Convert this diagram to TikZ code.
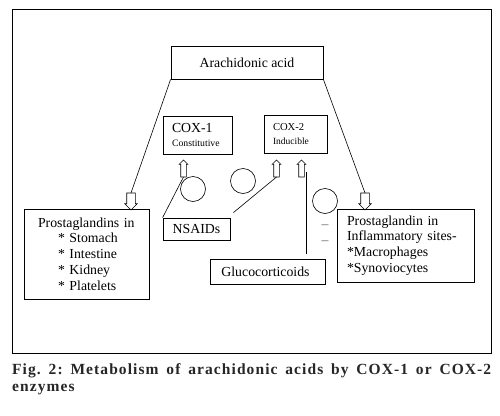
\documentclass[tikz,border=0pt]{standalone}
\usepackage{fontspec}
\setmainfont{Liberation Serif}
\usetikzlibrary{shapes.arrows}
\tikzset{
  box/.style={draw, line width=0.8pt, inner sep=0pt, font=\fontsize{13.8}{15.8}\selectfont},
  bigarrow/.style={single arrow, draw, line width=0.6pt, inner xsep=0pt, inner ysep=4pt,
    outer sep=0pt, single arrow head extend=2pt, minimum height=17pt},
  smallarrow/.style={single arrow, draw, line width=0.6pt, inner xsep=0pt, inner ysep=2.5pt,
    outer sep=0pt, single arrow head extend=1.5pt, minimum height=17pt},
  ring/.style={circle, draw, line width=0.6pt, minimum size=25pt, inner sep=0pt},
  link/.style={line width=0.6pt}
}
\begin{document}
\begin{tikzpicture}[x=1pt,y=-1pt]
\useasboundingbox (0,0) rectangle (500,415);
\draw[line width=1pt] (12,9) rectangle (491,353);
% boxes
\node[box, minimum width=152pt, minimum height=33pt] (acid) at (247,62.5) {Arachidonic acid};
\node[box, minimum width=69pt, minimum height=38pt, inner xsep=9pt, text width=51pt, align=left] (cox1) at (197.5,135)
  {COX-1\\[-2pt]{\fontsize{9.75}{11}\selectfont Constitutive}};
\node[box, minimum width=63pt, minimum height=38pt, inner xsep=9pt, text width=45pt, align=left] (cox2) at (295.5,134)
  {{\fontsize{10.6}{12}\selectfont COX-2}\\[-1pt]{\fontsize{9.5}{11}\selectfont Inducible}};
\node[box, minimum width=125pt, minimum height=90pt, inner xsep=14pt, text width=97pt, align=left] (stomach) at (86.5,254)
  {Prostaglandins in\\\hspace*{20pt}* Stomach\\\hspace*{20pt}* Intestine\\\hspace*{20pt}* Kidney\\\hspace*{20pt}* Platelets};
\node[box, minimum width=67pt, minimum height=22pt] (nsaid) at (196.5,229) {NSAIDs};
\node[box, minimum width=115pt, minimum height=25pt] (gluco) at (267.5,271.5) {Glucocorticoids\hspace*{4pt}};
\node[box, minimum width=137pt, minimum height=73pt, inner xsep=10pt, text width=117pt, align=left] (inflam) at (405.5,245.5)
  {Prostaglandin in\\Inflammatory sites-\\{}*Macrophages\\{}*Synoviocytes};
% hollow arrows
\node[bigarrow, rotate=-90, anchor=tip] (downL) at (131,210) {};
\node[bigarrow, rotate=-90, anchor=tip] (downR) at (365,210) {};
\node[smallarrow, rotate=90, anchor=tip] (up1) at (183.5,160) {};
\node[smallarrow, rotate=90, anchor=tip] (up2) at (276.5,160) {};
\node[smallarrow, rotate=90, anchor=tip] (up3) at (301.5,160) {};
% circles and minus signs
\node[ring] (ring1) at (193,189) {};
\node[ring] (ring2) at (243,181) {};
\node[ring] (ring3) at (325,201) {};
\node[text=black!60, inner sep=0pt, font=\fontsize{13.8}{15.8}\selectfont] (minus1) at (325,227) {\textendash};
\node[text=black!60, inner sep=0pt, font=\fontsize{13.8}{15.8}\selectfont] (minus2) at (325,243) {\textendash};
% connectors
\draw[link] (acid.south west) -- (downL.tail);
\draw[link] (acid.south east) -- (downR.tail);
\draw[link] (nsaid.north west) -- (up1.tail);
\draw[link] ([shift={(3,-5)}]nsaid.north east) -- (up2.tail);
\draw[link] ([shift={(38.5,-5)}]gluco.north) -- ++(0,-82);
% caption
\node[anchor=north west, inner sep=0pt, text width=479pt, text=black!85,
  font=\bfseries\fontsize{15.5}{17.5}\selectfont\addfontfeatures{LetterSpace=7}] (caption) at (12,363)
  {\makebox[479pt][s]{Fig.\hfill 2:\hfill Metabolism\hfill of\hfill arachidonic\hfill acids\hfill by\hfill COX-1\hfill or\hfill COX-2}\\enzymes};
\end{tikzpicture}
\end{document}
